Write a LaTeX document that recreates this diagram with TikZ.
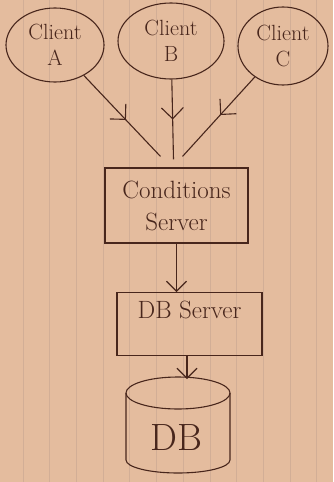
\documentclass[tikz,border=0pt]{standalone}
\usetikzlibrary{shapes.geometric,arrows.meta,decorations.markings}
\definecolor{paper}{RGB}{228,188,158}
\definecolor{rulec}{RGB}{210,174,150}
\definecolor{inkc}{RGB}{72,38,28}
\begin{document}
\begin{tikzpicture}[x=1pt,y=-1pt,
  inkline/.style={draw=inkc, line width=1.1pt},
  client/.style={ellipse, draw=inkc, line width=1.1pt, inner sep=0pt, align=center,
    font=\fontsize{22}{26}\selectfont, text=inkc},
  box/.style={rectangle, draw=inkc, line width=1.1pt, align=center,
    font=\fontsize{25}{32}\selectfont, text=inkc},
  midarrow/.style={postaction={decorate}, decoration={markings,
    mark=at position #1 with {\arrow{Straight Barb[length=11pt,width=22pt]}}}},
  endarrow/.style={-{Straight Barb[length=10pt,width=20pt]}}]
\fill[paper] (0,0) rectangle (333,482);
\useasboundingbox (0,0) rectangle (333,482);
\foreach \i in {0,...,11} \draw[rulec, line width=0.7pt] ({23+26.7*\i},0) -- ({23+26.7*\i},482);
% clients
\node[client, minimum width=98pt, minimum height=74pt] (ca) at (55,45) {Client\\A};
\node[client, minimum width=106pt, minimum height=76pt] (cb) at (171,41) {Client\\B};
\node[client, minimum width=90pt, minimum height=78pt] (cc) at (283,46) {Client\\C};
% servers
\node[box, minimum width=143pt, minimum height=75pt] (cond) at (176.5,205.5) {Conditions\\Server};
\node[box, minimum width=145pt, minimum height=63pt, anchor=north, inner sep=10pt,
  text height=16pt, text depth=27pt] (dbs) at (189.5,292) {DB Server};
% database
\node[text=inkc, font=\fontsize{38}{44}\selectfont] (db) at (176,438) {DB};
\coordinate (dbin) at (187,379);
\draw[inkline] (178,393) ellipse [x radius=52pt, y radius=16pt];
\draw[inkline] (126,393) -- (126,460) arc[start angle=180, end angle=360, x radius=52pt, y radius=13pt] -- (230,393);
% connectors
\draw[inkline, midarrow=0.55] (ca) -- ([shift={(-16pt,11pt)}]cond.north);
\draw[inkline, midarrow=0.5] (cb) -- ([shift={(-3pt,8pt)}]cond.north);
\draw[inkline, midarrow=0.48] (cc) -- ([shift={(6pt,11pt)}]cond.north);
\draw[inkline, endarrow] (cond.south) -- (cond.south |- dbs.north);
\draw[inkline, endarrow] (dbs.south -| dbin) -- (dbin);
\end{tikzpicture}
\end{document}
